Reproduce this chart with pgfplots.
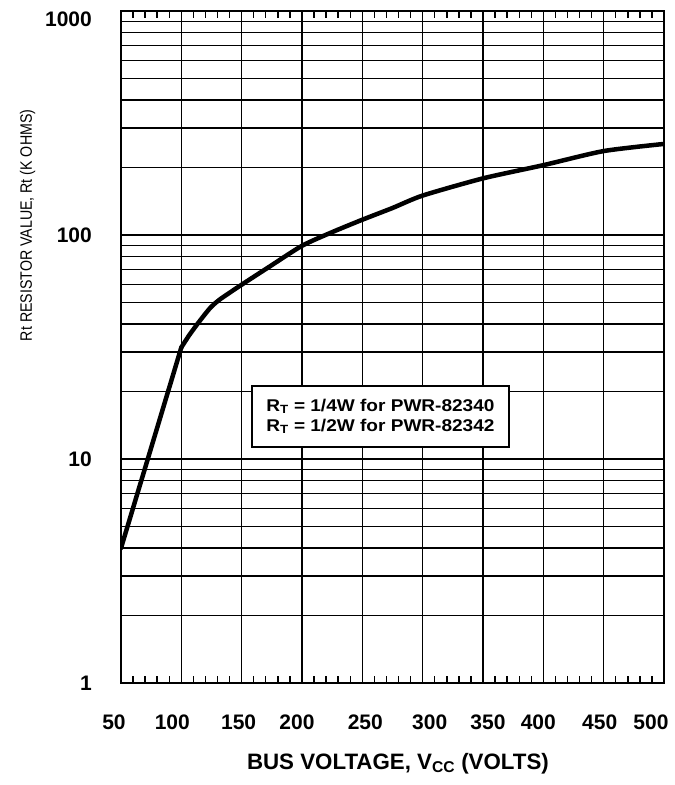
\documentclass[border=0pt]{standalone}
\usepackage{fontspec}
\setmainfont{Liberation Sans}
\newfontfamily\boxfont[FakeStretch=1.12]{Liberation Sans}
\newfontfamily\ylabfont[FakeStretch=0.86]{Liberation Sans}
\usepackage{pgfplots}
\pgfplotsset{compat=1.18}
% shift a tick label sideways: \lsh{<pt>}{text} moves it left, \rsh right
\newcommand{\lsh}[2]{#2\hspace*{#1pt}}
\newcommand{\rsh}[2]{\hspace*{#1pt}#2}
\begin{document}
\begin{tikzpicture}
\begin{axis}[
  at={(0,0)}, anchor=south west,
  scale only axis, width=543pt, height=672pt,
  xmin=50, xmax=500, ymin=1, ymax=1000, ymode=log,
  xtick={50,100,...,500},
  xticklabels={\lsh{14}{50},\lsh{18}{100},\lsh{6}{150},\lsh{10}{200},\rsh{6}{250},
               \rsh{14}{300},\rsh{10}{350},\lsh{10}{400},\lsh{8}{450},\lsh{26}{500}},
  ytick={1,10,100,1000}, yticklabels={1,10,100,{}},
  extra y ticks={1000}, extra y tick labels={1000},
  extra y tick style={yticklabel style={yshift=-8pt}},
  minor x tick num=4,
  tick align=inside,
  major tick length=0pt, minor tick length=7pt,
  xmajorgrids, ymajorgrids, yminorgrids,
  grid style={black, line width=1.4pt},
  minor tick style={black, line width=1.4pt},
  axis line style={line width=2pt},
  ticklabel style={font=\fontsize{21}{21}\selectfont\bfseries, inner sep=0pt},
  xticklabel style={anchor=north, yshift=-32pt},
  yticklabel style={anchor=east, xshift=-29pt},
  xlabel={BUS VOLTAGE, V\textsubscript{CC} (VOLTS)},
  xlabel style={at={(axis description cs:0.51,0)}, anchor=base, yshift=-86pt,
                font=\fontsize{22.3}{22.3}\selectfont\bfseries},
  ylabel={Rt RESISTOR VALUE, Rt (K OHMS)},
  ylabel style={at={(axis description cs:0,0.681)}, anchor=base, yshift=89pt,
                font=\ylabfont\fontsize{16.5}{16.5}\selectfont},
]
% resistor value against bus voltage: straight rise, then a smooth knee
\addplot[black, line width=4.5pt, line cap=round] coordinates {
  (50,4.0) (100,31.5)
};
\addplot[black, line width=4.5pt, line cap=round, smooth, tension=0.4] coordinates {
  (100,31.5) (107,36) (115.5,41.5) (124,47.3) (132,51.6) (150,60)
  (173.5,72.5) (200,89.5) (225,103) (250,117) (275,132) (300,150)
  (350,179) (400,205) (450,237) (500,255)
};
\node[draw=black, line width=2pt, fill=white, align=left, inner sep=0pt,
      minimum width=257pt, minimum height=61pt,
      font=\boxfont\fontsize{17}{20}\selectfont\bfseries]
  at (axis cs:265,15.5)
  {R\textsubscript{T} = 1/4W for PWR-82340\\R\textsubscript{T} = 1/2W for PWR-82342};
\end{axis}
\pgfresetboundingbox
\path[use as bounding box] (-121pt,-102pt) rectangle (554pt,683pt);
\end{tikzpicture}
\end{document}
